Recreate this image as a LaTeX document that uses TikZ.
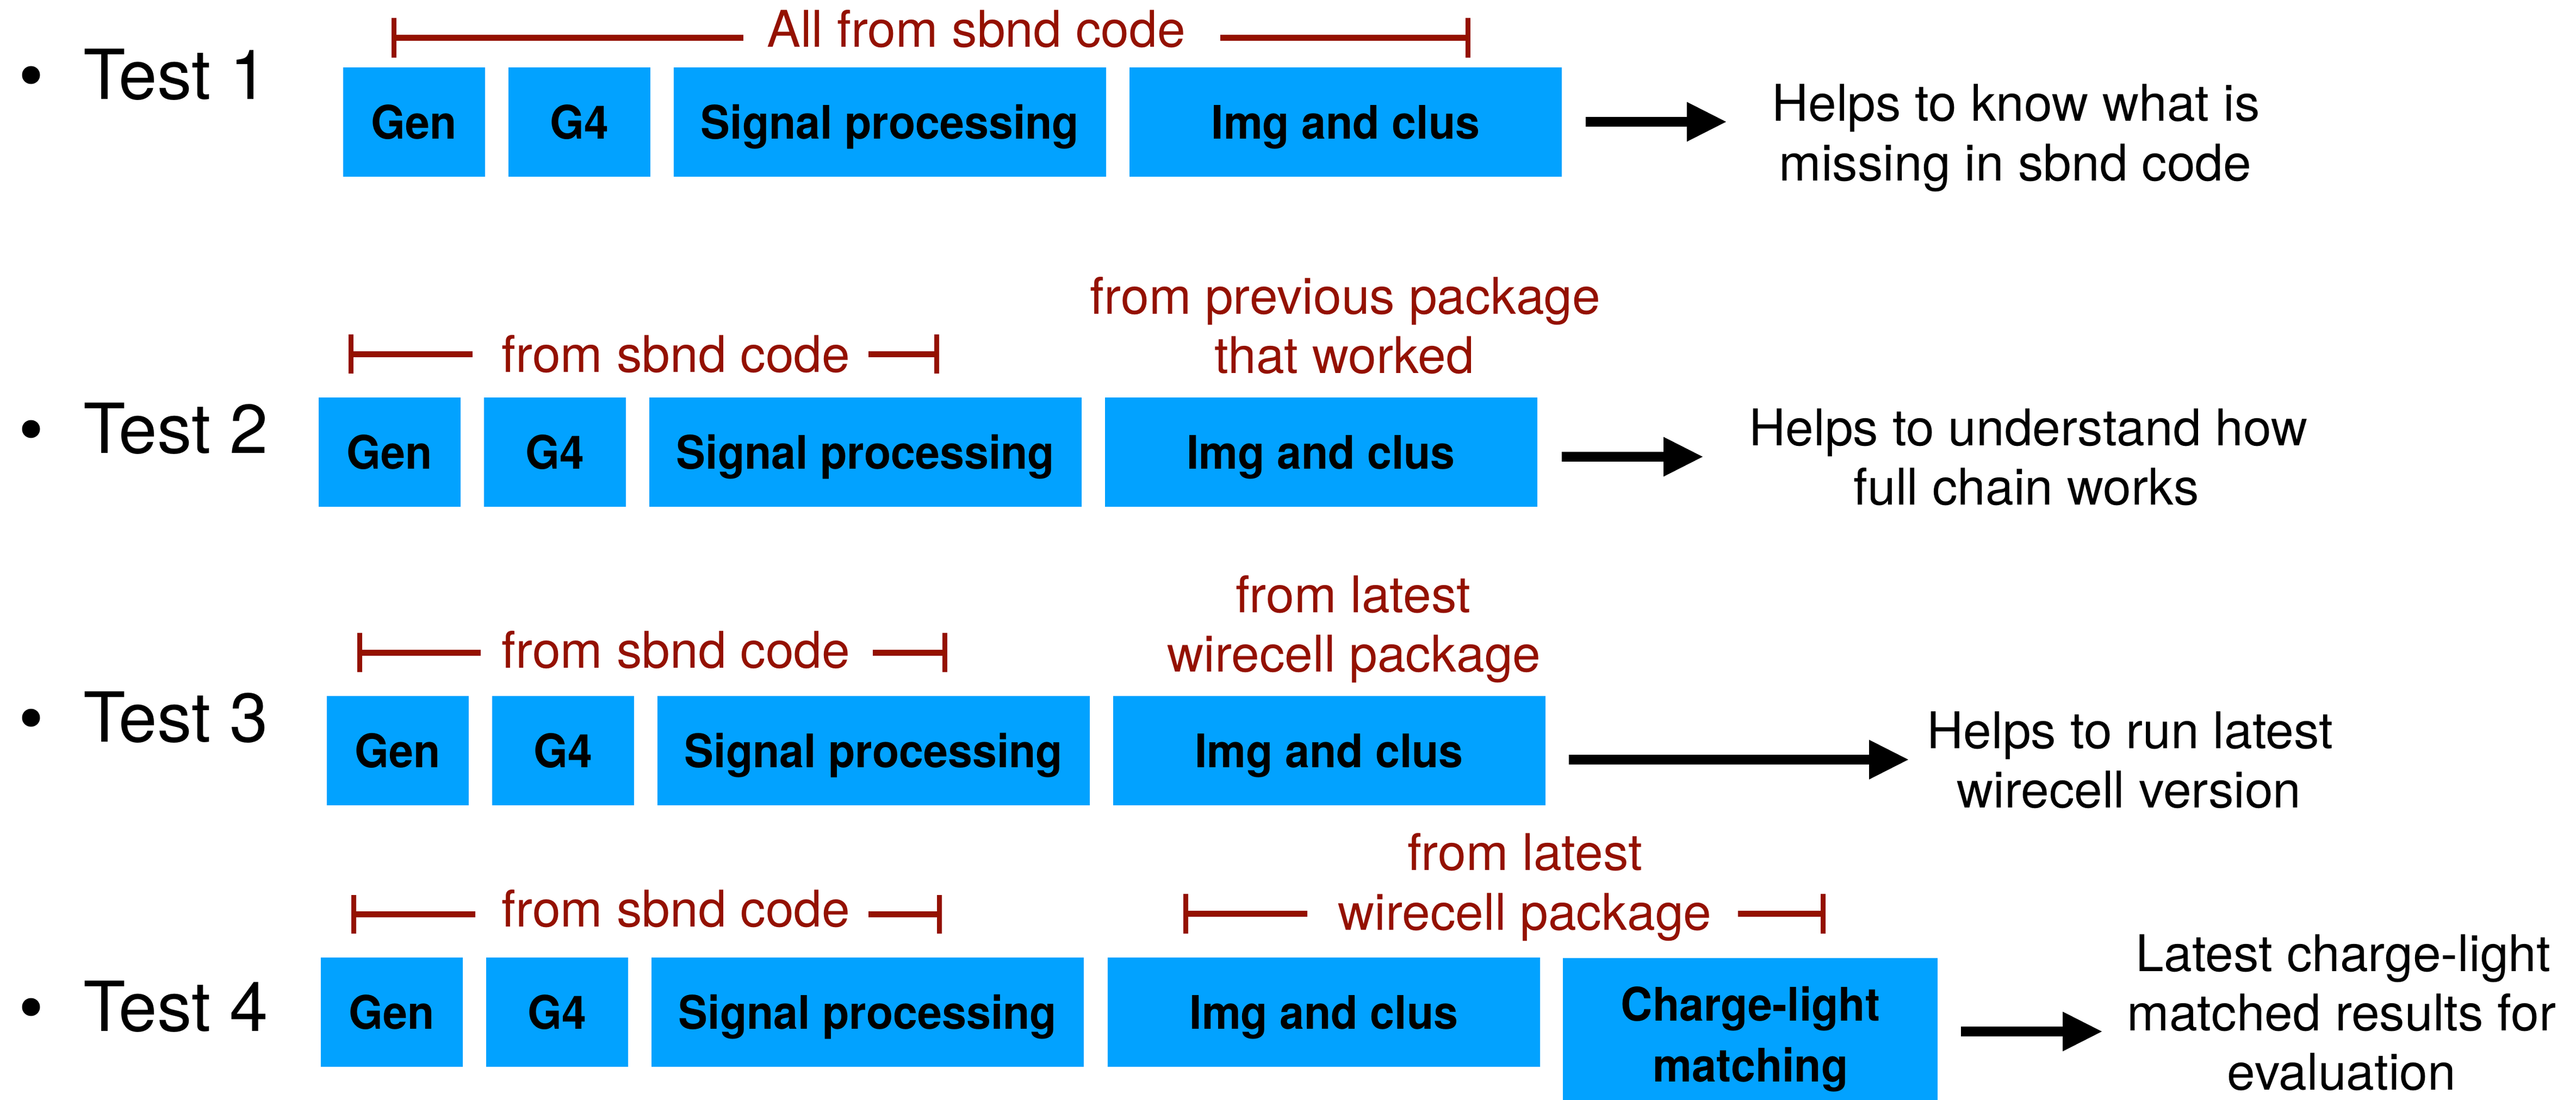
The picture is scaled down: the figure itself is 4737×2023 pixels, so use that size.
\documentclass[tikz,border=0pt]{standalone}
\usepackage{fontspec}
\setmainfont{TeX Gyre Heros}
\newfontfamily\boxfont{TeX Gyre Heros}[FakeStretch=0.95]
\usetikzlibrary{arrows.meta}
\definecolor{boxblue}{RGB}{2,162,255}
\definecolor{darkred}{RGB}{148,17,0}
\begin{document}
\begin{tikzpicture}[x=1pt,y=-1pt,
 blk/.style={rectangle, fill=boxblue, inner sep=0pt, minimum height=201pt, text height=61pt, text depth=0pt, font=\boxfont\bfseries\fontsize{85}{100}\selectfont},
 gbox/.style={blk, minimum width=261pt},
 wbox/.style={blk, minimum width=795pt},
 lbl/.style={inner sep=0pt, anchor=base, text=darkred, font=\fontsize{93}{110}\selectfont},
 note/.style={inner sep=0pt, anchor=base, font=\fontsize{93}{110}\selectfont},
 testlbl/.style={inner sep=0pt, anchor=base west, font=\fontsize{127}{150}\selectfont},
 bul/.style={circle, fill=black, minimum size=33pt, inner sep=0pt},
 brk/.style={draw=darkred, line width=11pt},
 tick/.style={draw=darkred, line width=9pt},
 bigarrow/.style={line width=18pt, -{Triangle[length=72pt,width=73pt,line width=0pt]}},
 cltext/.style={inner sep=0pt, anchor=base, font=\boxfont\bfseries\fontsize{85}{100}\selectfont}
]
\fill[white] (0,0) rectangle (4737,2023);
\useasboundingbox (0,0) rectangle (4737,2023);

% ---------- Test 1 ----------
\node[bul] (b1) at (57,138) {};
\node[testlbl] (t1) at (153,182) {Test 1};
\node[gbox] (gen1) at (761.5,224.5) {Gen};
\node[gbox] (gf1) at (1065.5,224.5) {G4};
\node[wbox] (sp1) at (1636.5,224.5) {Signal processing};
\node[wbox] (ic1) at (2474.5,224.5) {Img and clus};
\node[lbl] (l1) at (1795,87) {All from sbnd code};
\draw[brk] (724,69.5) -- (1367,69.5);
\draw[tick] (724,33) -- (724,106);
\draw[brk] (2244,69.5) -- (2699,69.5);
\draw[tick] (2699,33) -- (2699,106);
\coordinate (a1s) at (2916,224);
\coordinate (a1e) at (3174,224);
\draw[bigarrow] (a1s) -- (a1e);
\node[note] (n1a) at (3707,222) {Helps to know what is};
\node[note] (n1b) at (3706,332) {missing in sbnd code};

% ---------- Test 2 ----------
\node[bul] (b2) at (57,789) {};
\node[testlbl] (t2) at (153,833) {Test 2};
\node[gbox] (gen2) at (716.5,831.5) {Gen};
\node[gbox] (gf2) at (1020.5,831.5) {G4};
\node[wbox] (sp2) at (1591.5,831.5) {Signal processing};
\node[wbox] (ic2) at (2429,831.5) {Img and clus};
\node[lbl] (l2) at (1243,684) {from sbnd code};
\draw[brk] (645,651) -- (869,651);
\draw[tick] (645,615) -- (645,687);
\draw[brk] (1597,651) -- (1722,651);
\draw[tick] (1722,615) -- (1722,687);
\node[lbl] (l2b) at (2474,577) {from previous package};
\node[lbl] (l2c) at (2472,686) {that worked};
\coordinate (a2s) at (2872,840);
\coordinate (a2e) at (3131,840);
\draw[bigarrow] (a2s) -- (a2e);
\node[note] (n2a) at (3730,819) {Helps to understand how};
\node[note] (n2b) at (3726,928) {full chain works};

% ---------- Test 3 ----------
\node[bul] (b3) at (57,1320) {};
\node[testlbl] (t3) at (153,1364) {Test 3};
\node[gbox] (gen3) at (731.5,1380.5) {Gen};
\node[gbox] (gf3) at (1035.5,1380.5) {G4};
\node[wbox] (sp3) at (1606.5,1380.5) {Signal processing};
\node[wbox] (ic3) at (2444,1380.5) {Img and clus};
\node[lbl] (l3) at (1243,1228) {from sbnd code};
\draw[brk] (661,1200) -- (884,1200);
\draw[tick] (661,1164) -- (661,1236);
\draw[brk] (1605,1200) -- (1737,1200);
\draw[tick] (1737,1164) -- (1737,1236);
\node[lbl] (l3b) at (2488,1126) {from latest};
\node[lbl] (l3c) at (2490,1235) {wirecell package};
\coordinate (a3s) at (2885,1397);
\coordinate (a3e) at (3509,1397);
\draw[bigarrow] (a3s) -- (a3e);
\node[note] (n3a) at (3917,1376) {Helps to run latest};
\node[note] (n3b) at (3915,1485) {wirecell version};

% ---------- Test 4 ----------
\node[bul] (b4) at (57,1852) {};
\node[testlbl] (t4) at (153,1896) {Test 4};
\node[gbox] (gen4) at (720.5,1861.5) {Gen};
\node[gbox] (gf4) at (1024.5,1861.5) {G4};
\node[wbox] (sp4) at (1595.5,1861.5) {Signal processing};
\node[wbox] (ic4) at (2434.5,1861.5) {Img and clus};
\node[blk, minimum width=689pt, minimum height=261pt] (cl4) at (3218.5,1892.5) {};
\node[cltext] (cl4a) at (3219,1877) {Charge-light};
\node[cltext] (cl4b) at (3219,1989) {matching};
\node[lbl] (l4) at (1243,1704) {from sbnd code};
\draw[brk] (650,1681) -- (874,1681);
\draw[tick] (650,1646) -- (650,1717);
\draw[brk] (1597,1681) -- (1727,1681);
\draw[tick] (1727,1646) -- (1727,1717);
\node[lbl] (l4b) at (2804,1600) {from latest};
\node[lbl] (l4c) at (2804,1710) {wirecell package};
\draw[brk] (2180,1680) -- (2404,1680);
\draw[tick] (2180,1644) -- (2180,1717);
\draw[brk] (3196,1680) -- (3352,1680);
\draw[tick] (3352,1644) -- (3352,1717);
\coordinate (a4s) at (3606,1897);
\coordinate (a4e) at (3865,1897);
\draw[bigarrow] (a4s) -- (a4e);
\node[note] (n4a) at (4309,1786) {Latest charge-light};
\node[note] (n4b) at (4306,1895) {matched results for};
\node[note] (n4c) at (4306,2004) {evaluation};
\end{tikzpicture}
\end{document}
